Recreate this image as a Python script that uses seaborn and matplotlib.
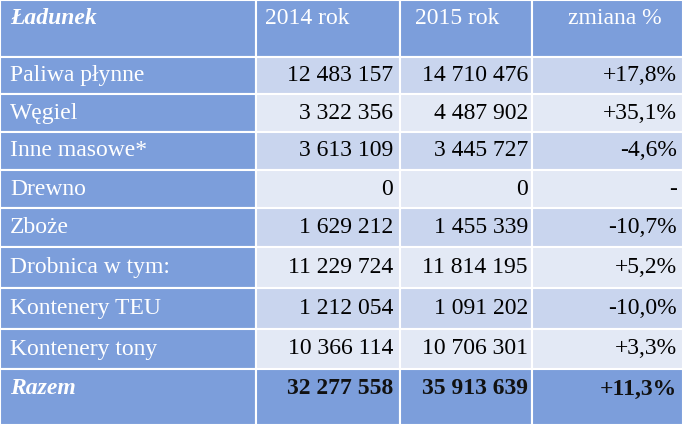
import matplotlib
matplotlib.use("Agg")
import matplotlib.pyplot as plt
import seaborn as sns
from matplotlib.patches import Rectangle

sns.set_theme(style="white")
plt.rcParams['font.family'] = ['Liberation Serif', 'DejaVu Serif']

headers = ["Ładunek", "2014 rok", "2015 rok", "zmiana %"]
categories = ["Paliwa płynne", "Węgiel", "Inne masowe*", "Drewno", "Zboże",
              "Drobnica w tym:", "Kontenery TEU", "Kontenery tony"]
y2014 = ["12 483 157", "3 322 356", "3 613 109", "0", "1 629 212",
         "11 229 724", "1 212 054", "10 366 114"]
y2015 = ["14 710 476", "4 487 902", "3 445 727", "0", "1 455 339",
         "11 814 195", "1 091 202", "10 706 301"]
change = ["+17,8%", "+35,1%", "-4,6%", "-", "-10,7%", "+5,2%", "-10,0%", "+3,3%"]
total = ["Razem", "32 277 558", "35 913 639", "+11,3%"]

W, H = 683, 425
fig = plt.figure(figsize=(W/100, H/100), dpi=100)
ax = fig.add_axes([0, 0, 1, 1])
ax.set_xlim(0, W); ax.set_ylim(H, 0); ax.axis("off")

blue = "#7c9edb"
dark = "#c9d5ee"
light = "#e3e9f5"
cols = [0, 256, 400, 532, W]
rows = [0, 57, 94, 132, 170, 208, 247, 288, 329, 369, H]
FS = 17

def rect(x0, y0, x1, y1, c):
    ax.add_patch(Rectangle((x0, y0), x1-x0, y1-y0, facecolor=c, edgecolor="white", lw=1.5))

for j in range(4):
    rect(cols[j], 0, cols[j+1], 57, blue)
ax.text(10, 18, headers[0], color="white", fontsize=FS, style="italic", weight="bold", va="center")
for j, x in zip(range(1, 4), [265, 415, 568]):
    ax.text(x, 18, headers[j], color="white", fontsize=FS, va="center")

rx = [393, 528, 677]
for i in range(8):
    y0, y1 = rows[i+1], rows[i+2]
    yc = (y0 + y1) / 2
    rect(cols[0], y0, cols[1], y1, blue)
    c = dark if i % 2 == 0 else light
    for j in range(1, 4):
        rect(cols[j], y0, cols[j+1], y1, c)
    ax.text(10, yc, categories[i], color="white", fontsize=FS, va="center")
    for x, v in zip(rx, [y2014[i], y2015[i], change[i]]):
        ax.text(x, yc, v, color="black", fontsize=FS, va="center", ha="right")

y0, y1 = rows[9], rows[10]
yc = 389
for j in range(4):
    rect(cols[j], y0, cols[j+1], y1, blue)
ax.text(10, yc, total[0], color="white", fontsize=FS, style="italic", weight="bold", va="center")
for x, v in zip(rx, total[1:]):
    ax.text(x, yc, v, color="#111111", fontsize=FS, weight="bold", va="center", ha="right")

fig.savefig("out.png", dpi=100)
